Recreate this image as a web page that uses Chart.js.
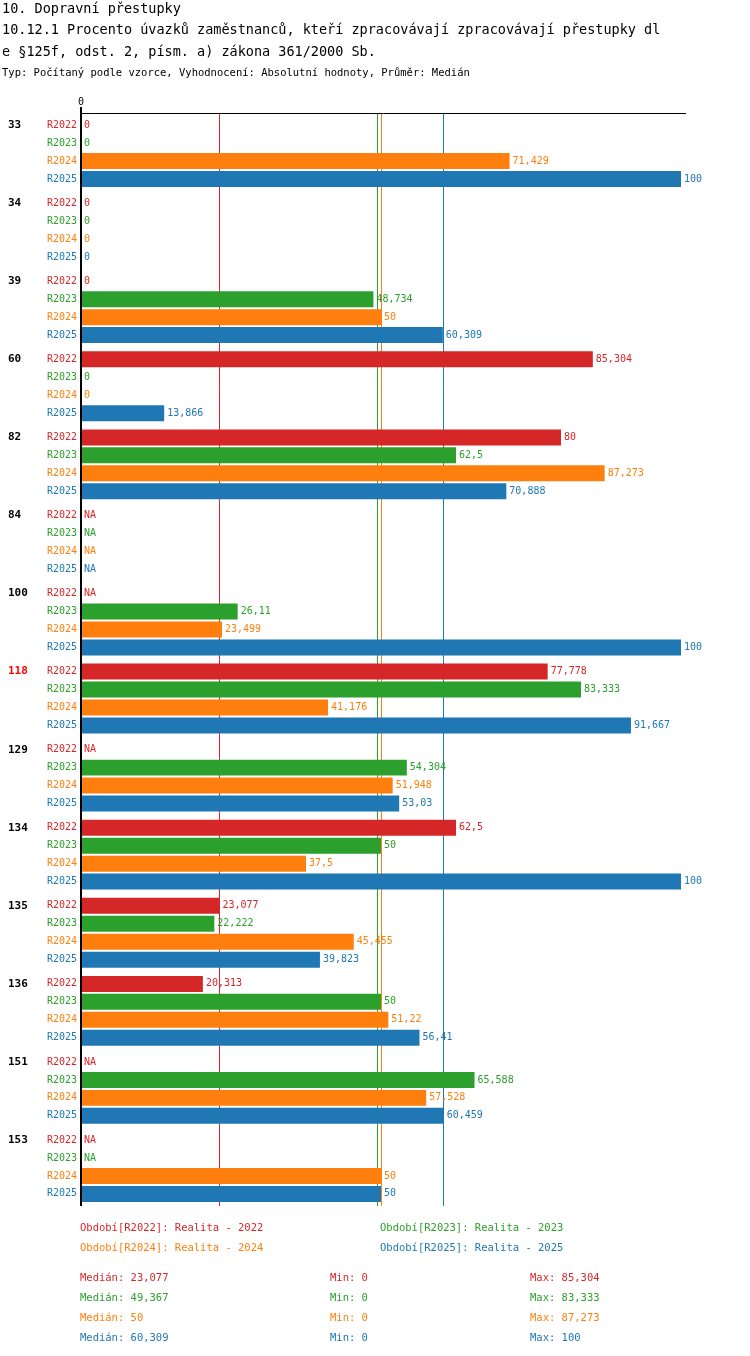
<!DOCTYPE html>
<html><head><meta charset="utf-8">
<script src="https://cdn.jsdelivr.net/npm/chart.js@4/dist/chart.umd.min.js"></script>
<style>
body{margin:0;background:#fff;font-family:"DejaVu Sans Mono",monospace;}
#wrap{position:relative;width:750px;height:1356px;}
canvas{position:absolute;left:0;top:0;}
.t{position:absolute;white-space:nowrap;}
</style></head><body>
<div id="wrap">
<canvas id="c" width="750" height="1356"></canvas>
<div class="t" style="left:2px;top:0px;font-size:13.5px">10. Dopravní přestupky</div>
<div class="t" style="left:2px;top:21px;font-size:13.5px">10.12.1 Procento úvazků zaměstnanců, kteří zpracovávají zpracovávají přestupky dl</div>
<div class="t" style="left:2px;top:43px;font-size:13.5px">e §125f, odst. 2, písm. a) zákona 361/2000 Sb.</div>
<div class="t" style="left:2px;top:66px;font-size:10.5px">Typ: Počítaný podle vzorce, Vyhodnocení: Absolutní hodnoty, Průměr: Medián</div>
<div id="foot"></div>
</div>
<script>
const groups=["33","34","39","60","82","84","100","118","129","134","135","136","151","153"];
const seriesNames=["R2022","R2023","R2024","R2025"];
const colors=["#d62728","#2ca02c","#ff7f0e","#1f77b4"];
const r2022=[0,0,0,85.304,80,null,null,77.778,null,62.5,23.077,20.313,null,null];
const r2023=[0,0,48.734,0,62.5,null,26.11,83.333,54.304,50,22.222,50,65.588,null];
const r2024=[71.429,0,50,0,87.273,null,23.499,41.176,51.948,37.5,45.455,51.22,57.528,50];
const r2025=[100,0,60.309,13.866,70.888,null,100,91.667,53.03,100,39.823,56.41,60.459,50];
const medians=[23.077,49.367,50,60.309];
const mins=[0,0,0,0];
const maxs=[85.304,83.333,87.273,100];
const legendTexts=["Období[R2022]: Realita - 2022","Období[R2023]: Realita - 2023","Období[R2024]: Realita - 2024","Období[R2025]: Realita - 2025"];
const highlight="118";
const all=[r2022,r2023,r2024,r2025];
const fmt=v=>String(v).replace('.',',');
const F='"DejaVu Sans Mono", monospace';

const foot=document.getElementById('foot');
let h='';
legendTexts.forEach((t,i)=>{h+=`<div class="t" style="font-size:10.5px;color:${colors[i]};left:${i%2?380:80}px;top:${1221+Math.floor(i/2)*20}px">${t}</div>`;});
for(let i=0;i<4;i++){const y=1271+i*20;
h+=`<div class="t" style="font-size:10.5px;color:${colors[i]};left:80px;top:${y}px">Medián: ${fmt(medians[i])}</div>`;
h+=`<div class="t" style="font-size:10.5px;color:${colors[i]};left:330px;top:${y}px">Min: ${fmt(mins[i])}</div>`;
h+=`<div class="t" style="font-size:10.5px;color:${colors[i]};left:530px;top:${y}px">Max: ${fmt(maxs[i])}</div>`;}
foot.innerHTML=h;

const deco={id:'deco',
beforeDatasetsDraw(ch){const c=ch.ctx,a=ch.chartArea,x=ch.scales.x;
 c.save();c.lineWidth=1;
 medians.forEach((m,i)=>{const px=Math.round(x.getPixelForValue(m))+0.5;c.strokeStyle=colors[i];c.beginPath();c.moveTo(px,a.top);c.lineTo(px,a.bottom);c.stroke();});
 c.restore();},
afterDatasetsDraw(ch){const c=ch.ctx,a=ch.chartArea,x=ch.scales.x;
 c.save();c.strokeStyle='#000';c.lineWidth=1;
 c.beginPath();c.moveTo(a.left,a.top+0.5);c.lineTo(a.right+5,a.top+0.5);c.stroke();
 c.lineWidth=2;c.beginPath();c.moveTo(a.left,a.top-6);c.lineTo(a.left,a.bottom);c.stroke();
 c.font='10px '+F;c.fillStyle='#000';c.textAlign='center';c.textBaseline='bottom';c.fillText('0',a.left,a.top-6);
 c.textBaseline='middle';
 ch.data.datasets.forEach((ds,di)=>{const meta=ch.getDatasetMeta(di);
  meta.data.forEach((el,gi)=>{const y=el.y;const v=ds.data[gi];
   c.font='10px '+F;c.fillStyle=colors[di];c.textAlign='left';
   c.fillText(seriesNames[di],47,y);
   const lx=(v==null?a.left:el.x)+3;
   c.fillText(v==null?'NA':fmt(v),lx,y);
   if(di===0){c.font='bold 11px '+F;c.fillStyle=groups[gi]===highlight?'#f00':'#000';c.fillText(groups[gi],8,y);}
  });});
 c.restore();}};

new Chart(document.getElementById('c'),{type:'bar',
data:{labels:groups,datasets:all.map((d,i)=>({label:seriesNames[i],data:d,backgroundColor:colors[i],categoryPercentage:0.92,barPercentage:0.89}))},
options:{indexAxis:'y',responsive:false,animation:false,
 layout:{padding:{left:81,right:69,top:113,bottom:150}},
 plugins:{legend:{display:false},tooltip:{enabled:false}},
 scales:{x:{min:0,max:100,display:false},y:{display:false}}},
plugins:[deco]});
</script></body></html>
